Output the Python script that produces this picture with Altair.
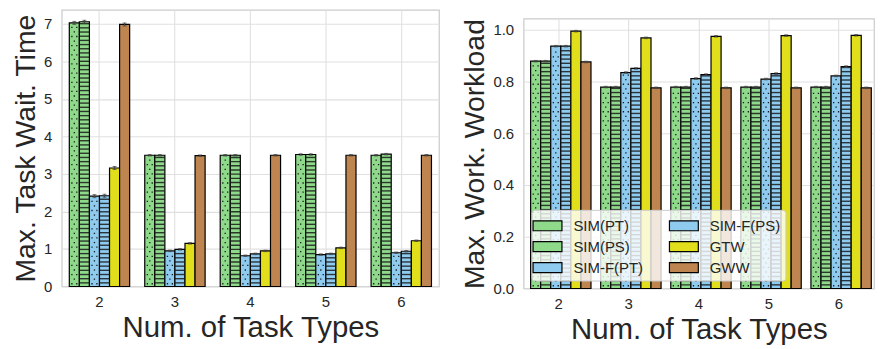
import altair as alt
import pandas as pd

categories = [2, 3, 4, 5, 6]
methods = ["SIM(PT)", "SIM(PS)", "SIM-F(PT)", "SIM-F(PS)", "GTW", "GWW"]
hatches = ["dots", "lines", "dots", "lines", "none", "none"]
colors = ["#8fd98b", "#8fd98b", "#8ecbef", "#8ecbef", "#e1df1c", "#bf8550"]

# Left panel: Max. Task Wait. Time
wait_sim_pt = [7.03, 3.50, 3.50, 3.52, 3.50]
wait_sim_ps = [7.06, 3.50, 3.50, 3.52, 3.53]
wait_simf_pt = [2.41, 0.95, 0.82, 0.85, 0.90]
wait_simf_ps = [2.42, 0.99, 0.87, 0.87, 0.94]
wait_gtw = [3.16, 1.15, 0.95, 1.03, 1.22]
wait_gww = [6.99, 3.49, 3.50, 3.50, 3.50]
wait_err = [0.04, 0.02, 0.02, 0.02, 0.02]

# Right panel: Max. Work. Workload
work_sim_pt = [0.878, 0.778, 0.778, 0.778, 0.778]
work_sim_ps = [0.878, 0.778, 0.778, 0.778, 0.778]
work_simf_pt = [0.936, 0.834, 0.811, 0.809, 0.821]
work_simf_ps = [0.936, 0.850, 0.826, 0.830, 0.857]
work_gtw = [0.994, 0.968, 0.974, 0.977, 0.978]
work_gww = [0.875, 0.775, 0.775, 0.775, 0.775]
work_err = [0.003, 0.003, 0.003, 0.003, 0.003]

FONT = "Liberation Sans"
TXT = "#262626"
XTITLE_SIZE = 29.5
YTITLE_SIZE = 28.5
DOTS_PAIR = "M-3.1,-0.65H-1.8V0.65H-3.1Z M1.8,-0.65H3.1V0.65H1.8Z"
DOT_ONE = "M-0.65,-0.65H0.65V0.65H-0.65Z"


def make_df(series, err):
    rows = []
    for m, h, vals in zip(methods, hatches, series):
        for c, v, e in zip(categories, vals, err):
            rows.append({"category": c, "method": m, "hatch": h, "value": v, "err": e})
    return pd.DataFrame(rows)


wait_df = make_df([wait_sim_pt, wait_sim_ps, wait_simf_pt, wait_simf_ps, wait_gtw, wait_gww], wait_err)
work_df = make_df([work_sim_pt, work_sim_ps, work_simf_pt, work_simf_ps, work_gtw, work_gww], work_err)


def panel(df, ytitle, ymax, width, height, yvalues, yfmt, legend):
    ppu = height / ymax
    pitch_s = 4.2 / ppu
    thick = 1.4 / ppu
    pitch_d = 4.6 / ppu

    yaxis = alt.Axis(values=yvalues, format=yfmt, labelFontSize=15, labelColor=TXT,
                     labelPadding=10, titleFontSize=YTITLE_SIZE, titleFontWeight="normal",
                     titleColor=TXT, titlePadding=3, domain=False, ticks=False,
                     gridColor="#e0e0e0", gridWidth=1.1)
    yscale = alt.Scale(domain=[0, ymax], nice=False, zero=True)

    def Y(field):
        return alt.Y(field, scale=yscale, axis=yaxis, title=ytitle)

    x = alt.X("category:O", title="Num. of Task Types",
              scale=alt.Scale(paddingInner=0.2, paddingOuter=0.1),
              axis=alt.Axis(labelAngle=0, bandPosition=0.5, labelFontSize=15,
                            labelColor=TXT, labelPadding=8, titleFontSize=XTITLE_SIZE,
                            titleFontWeight="normal", titleColor=TXT, titlePadding=4,
                            domain=False, ticks=False, gridColor="#e0e0e0", gridWidth=1.1,
                            grid=True))
    xo = alt.XOffset("method:N", sort=methods, scale=alt.Scale(paddingInner=0, paddingOuter=0))

    base = alt.Chart(df).encode(x=x, xOffset=xo)

    bars = base.mark_bar(stroke="black", strokeWidth=1.2).encode(
        y=Y("value:Q"),
        color=alt.Color("method:N", scale=alt.Scale(domain=methods, range=colors),
                        legend=legend),
    )

    stripes = (
        base.transform_filter(alt.datum.hatch == "lines")
        .transform_calculate(ys=f"sequence({pitch_s * 0.7}, datum.value - {thick}, {pitch_s})")
        .transform_flatten(["ys"])
        .transform_calculate(ys2=f"datum.ys + {thick}")
        .mark_bar(color="#1a1a1a", opacity=0.85)
        .encode(y=Y("ys:Q"), y2="ys2:Q")
    )

    dot_src = (
        base.transform_filter(alt.datum.hatch == "dots")
        .transform_calculate(ys=f"sequence({pitch_d * 0.6}, datum.value - {pitch_d * 0.4}, {pitch_d})")
        .transform_flatten(["ys"])
        .transform_calculate(row=f"round((datum.ys - {pitch_d * 0.6}) / {pitch_d}) % 2")
    )
    even = dot_src.transform_filter("datum.row == 0")
    odd = dot_src.transform_filter("datum.row == 1")
    d1 = even.mark_point(shape=DOTS_PAIR, size=4, filled=True, color="#111",
                         opacity=0.95, strokeWidth=0).encode(y=Y("ys:Q"))
    d2 = odd.mark_point(shape=DOT_ONE, size=4, filled=True, color="#111",
                        opacity=0.95, strokeWidth=0).encode(y=Y("ys:Q"))

    err = base.transform_calculate(lo="datum.value - datum.err", hi="datum.value + datum.err")
    rule = err.mark_rule(color="#444", strokeWidth=1.3).encode(y=Y("lo:Q"), y2="hi:Q")
    cap_hi = err.mark_tick(color="#444", thickness=1, size=4).encode(y=Y("hi:Q"))
    cap_lo = err.mark_tick(color="#444", thickness=1, size=4).encode(y=Y("lo:Q"))

    return alt.layer(bars, stripes, d1, d2, rule, cap_hi, cap_lo).properties(
        width=width, height=height)


left = panel(wait_df, "Max. Task Wait. Time", 7.38, 379, 278,
             [0, 1, 2, 3, 4, 5, 6, 7], "d", None)

right_legend = alt.Legend(
    title=None, orient="bottom-left", offset=8, columns=2, direction="vertical",
    symbolType="M-1.45,-0.5H1.45V0.5H-1.45Z", symbolSize=400,
    symbolStrokeColor="black", symbolStrokeWidth=1.2, symbolOpacity=1,
    labelFontSize=15, labelColor=TXT, labelFont=FONT, labelOffset=15,
    rowPadding=2, columnPadding=24, padding=5,
    fillColor="rgba(255,255,255,0.8)", strokeColor="#cccccc", cornerRadius=3,
)
right_panel = panel(work_df, "Max. Work. Workload", 1.042, 352, 271,
                    [0, 0.2, 0.4, 0.6, 0.8, 1.0], ".1f", right_legend)

spacer = (
    alt.Chart(pd.DataFrame({"a": [0]}))
    .mark_rule(strokeWidth=0, opacity=0)
    .encode(x=alt.value(10), x2=alt.value(20), y=alt.value(1))
    .properties(width=352, height=1, view=alt.ViewBackground(stroke=None))
)

right = (
    alt.vconcat(spacer, right_panel, spacing=7)
    .resolve_scale(color="independent")
    .resolve_legend(color="independent")
)

chart = (
    alt.hconcat(left, right, spacing=20)
    .resolve_scale(color="independent")
    .resolve_legend(color="independent")
    .properties(padding={"left": 3, "top": 0, "right": 0, "bottom": 0}, background="white")
    .configure(font=FONT)
    .configure_view(stroke="#cccccc", strokeWidth=1.25)
)

chart.save("out.html", embed_options={"renderer": "svg", "actions": False})
